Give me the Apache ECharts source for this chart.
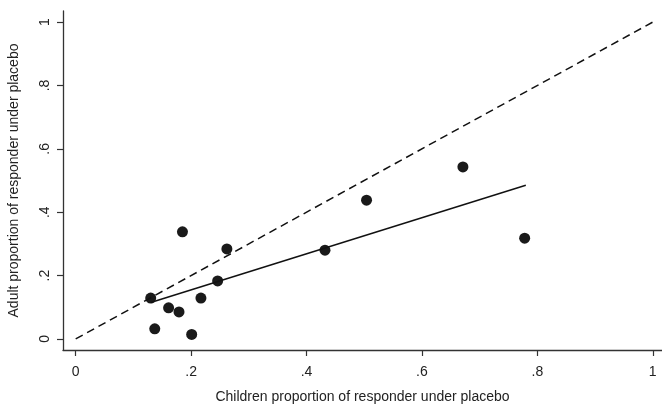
<!DOCTYPE html>
<html><head><meta charset="utf-8">
<script src="https://cdn.jsdelivr.net/npm/echarts@6/dist/echarts.min.js"></script>
<style>html,body{margin:0;padding:0;background:#fff}#c{width:662px;height:404px}</style>
</head><body><div id="c"></div>
<script>
var childProp = [0.130, 0.137, 0.161, 0.179, 0.185, 0.201, 0.217, 0.246, 0.262, 0.432, 0.504, 0.671, 0.778];
var adultProp = [0.129, 0.032, 0.098, 0.085, 0.338, 0.014, 0.129, 0.183, 0.284, 0.280, 0.438, 0.543, 0.318];
var fitX = [0.13, 0.78];
var fitY = [0.115, 0.485];
var diagX = [0, 1];
var diagY = [0, 1];
var tickValues = [0, 0.2, 0.4, 0.6, 0.8, 1];
var tickLabels = ['0', '.2', '.4', '.6', '.8', '1'];

function zip(a, b) { return a.map(function (v, i) { return [v, b[i]]; }); }
function fmt(v) { var i = tickValues.indexOf(v); return i >= 0 ? tickLabels[i] : ''; }

var axisColor = '#333';
var chart = echarts.init(document.getElementById('c'), null, {renderer: 'canvas'});
chart.setOption({
  animation: false,
  grid: {left: 63, right: 0, top: 11, bottom: 54, containLabel: false, outerBoundsMode: 'none'},
  xAxis: {
    type: 'value', min: -0.022, max: 1.016,
    name: 'Children proportion of responder under placebo',
    nameLocation: 'middle', nameGap: 40,
    nameTextStyle: {fontFamily: 'Liberation Sans', fontSize: 14, color: '#222'},
    axisLine: {show: true, onZero: false, lineStyle: {color: axisColor, width: 1.3}},
    axisTick: {show: true, length: 6, customValues: tickValues, lineStyle: {color: axisColor, width: 1.2}},
    axisLabel: {customValues: tickValues, formatter: fmt, fontFamily: 'Liberation Sans', fontSize: 14, color: '#222', margin: 15},
    splitLine: {show: false}
  },
  yAxis: {
    type: 'value', min: -0.035, max: 1.035,
    name: 'Adult proportion of responder under placebo',
    nameLocation: 'middle', nameGap: 42,
    nameTextStyle: {fontFamily: 'Liberation Sans', fontSize: 14, color: '#222'},
    axisLine: {show: true, onZero: false, lineStyle: {color: axisColor, width: 1.3}},
    axisTick: {show: true, length: 6, customValues: tickValues, lineStyle: {color: axisColor, width: 1.2}},
    axisLabel: {customValues: tickValues, formatter: fmt, rotate: 90, fontFamily: 'Liberation Sans', fontSize: 14, color: '#222', margin: 11},
    splitLine: {show: false}
  },
  series: [
    {type: 'line', data: zip(diagX, diagY), symbol: 'none', silent: true,
     lineStyle: {color: '#111', width: 1.5, type: [8, 5]}},
    {type: 'line', data: zip(fitX, fitY), symbol: 'none', silent: true,
     lineStyle: {color: '#111', width: 1.5}},
    {type: 'scatter', data: zip(childProp, adultProp), symbol: 'circle', symbolSize: 11,
     itemStyle: {color: '#1a1a1a', opacity: 1}}
  ]
});
</script>
</body></html>
